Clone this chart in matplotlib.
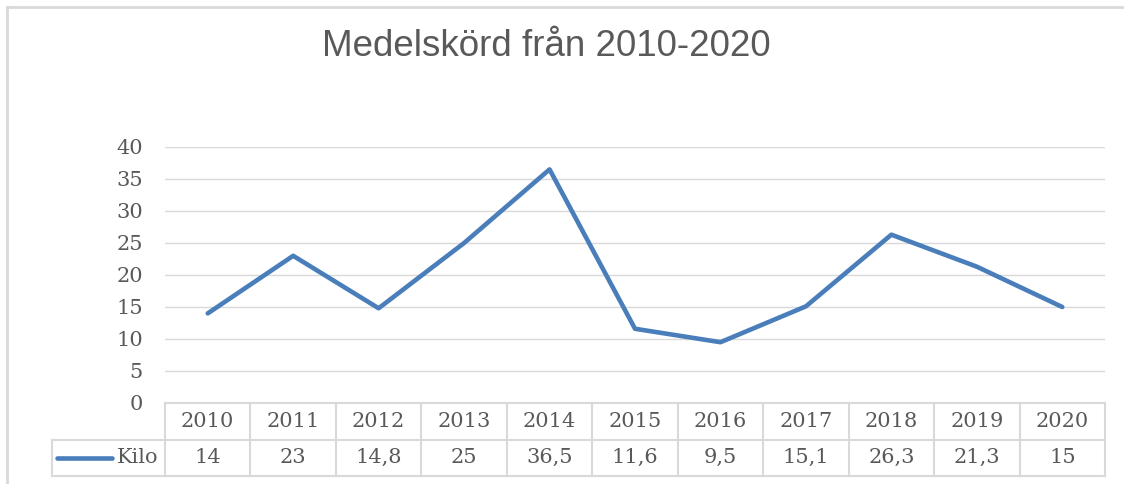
import matplotlib.pyplot as plt

years = ['2010', '2011', '2012', '2013', '2014', '2015', '2016', '2017', '2018', '2019', '2020']
kilo = [14, 23, 14.8, 25, 36.5, 11.6, 9.5, 15.1, 26.3, 21.3, 15]
kilo_labels = ['14', '23', '14,8', '25', '36,5', '11,6', '9,5', '15,1', '26,3', '21,3', '15']
series_name = 'Kilo'
title = 'Medelskörd från 2010-2020'

W, H = 1124, 484
blue = '#4a7ebb'
grid = '#d9d9d9'
txt = '#595959'
serif = 'DejaVu Serif'
fs = 15

fig = plt.figure(figsize=(W / 100, H / 100), dpi=100)

# chart area border (only left and top visible)
fig.add_artist(plt.Line2D([7 / W, 7 / W], [0, 1 - 7 / H], color=grid, lw=2))
fig.add_artist(plt.Line2D([7 / W, 1], [1 - 7 / H, 1 - 7 / H], color=grid, lw=2))

fig.text(546 / W, 1 - 46 / H, title, ha='center', va='center',
         fontsize=26.5, color=txt, family='Liberation Sans')

# plot area
x0, x1 = 165, 1105
ax = fig.add_axes([x0 / W, 1 - 403 / H, (x1 - x0) / W, (403 - 147) / H])
xs = range(len(years))
ax.plot(xs, kilo, color=blue, lw=3.3, solid_capstyle='round', solid_joinstyle='round', zorder=3)
ax.set_xlim(-0.5, len(years) - 0.5)
ax.set_ylim(0, 40)
ax.set_yticks(range(0, 41, 5))
ax.set_xticks([])
ax.yaxis.grid(True, color=grid, lw=1)
ax.set_axisbelow(True)
for s in ax.spines.values():
    s.set_visible(False)
ax.tick_params(axis='y', length=0, pad=16, labelsize=fs, labelcolor=txt)
for lab in ax.get_yticklabels():
    lab.set_family(serif)

# data table
tb = fig.add_axes([x0 / W, 1 - 476 / H, (x1 - x0) / W, (476 - 403) / H])
tb.set_xlim(-0.5, len(years) - 0.5)
tb.set_ylim(0, 2)
tb.invert_yaxis()
tb.axis('off')
lc = dict(color=grid, lw=1.5, clip_on=False)
tb.plot([-0.5, len(years) - 0.5], [0, 0], **lc)
tb.plot([-1.82, len(years) - 0.5], [1, 1], **lc)
tb.plot([-1.82, len(years) - 0.5], [2, 2], **lc)
tb.plot([-1.82, -1.82], [1, 2], **lc)
for i in range(len(years) + 1):
    tb.plot([i - 0.5, i - 0.5], [0, 2], **lc)
for i, (y, v) in enumerate(zip(years, kilo_labels)):
    tb.text(i, 0.5, y, ha='center', va='center', fontsize=fs, color=txt, family=serif)
    tb.text(i, 1.5, v, ha='center', va='center', fontsize=fs, color=txt, family=serif)
tb.plot([-1.76, -1.12], [1.5, 1.5], color=blue, lw=3.3, solid_capstyle='round', clip_on=False)
tb.text(-1.06, 1.5, series_name, ha='left', va='center', fontsize=fs, color=txt, family=serif)

fig.savefig('out.png', dpi=100)
